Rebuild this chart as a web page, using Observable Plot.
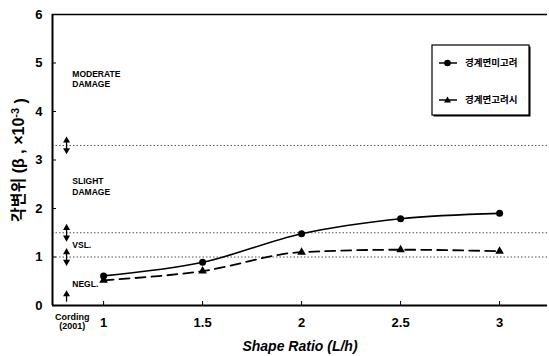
<!DOCTYPE html>
<html><head><meta charset="utf-8">
<script src="https://cdn.jsdelivr.net/npm/d3@7"></script>
<script src="https://cdn.jsdelivr.net/npm/@observablehq/plot@0.6"></script>
<style>
body{margin:0;background:#fff;}
#chart svg{font-family:"Liberation Sans","Noto Sans CJK KR",sans-serif;}
</style>
</head><body><div id="chart"></div>
<script>
// ---- data ----
const shapeRatio = [1, 1.5, 2, 2.5, 3];
const notConsidered = [0.61, 0.89, 1.48, 1.79, 1.90];   // 경계면미고려
const considered    = [0.52, 0.71, 1.10, 1.15, 1.12];   // 경계면고려시
const seriesNames = ["경계면미고려", "경계면고려시"];
const xTicks = [1, 1.5, 2, 2.5, 3];
const yTicks = [0, 1, 2, 3, 4, 5, 6];
const thresholds = [3.3, 1.5, 1.0];            // Cording (2001) limits
const zoneLabels = ["MODERATE\nDAMAGE", "SLIGHT\nDAMAGE", "VSL.", "NEGL."];
const zoneY = [4.68, 2.46, 1.26, 0.45];
const zoneX = 0.842;
const arrowX = 0.813;
const cordingLabel = "Cording\n(2001)";
const xLabel = "Shape Ratio (L/h)";
const yLabelMain = "각변위 (β , ×10";
const yLabelSup = "-3";
const yLabelEnd = " )";
const xDomain = [0.742, 3.242];
const yDomain = [0, 6];

// ---- tables ----
const rowsA = shapeRatio.map((x, i) => ({x, y: notConsidered[i]}));
const rowsB = shapeRatio.map((x, i) => ({x, y: considered[i]}));
const zones = zoneLabels.map((t, i) => ({t, y: zoneY[i]}));
const dbl = thresholds.map(t => ({t}));

const plot = Plot.plot({
  width: 549, height: 356,
  marginTop: 14, marginLeft: 52, marginRight: 2, marginBottom: 51,
  x: {domain: xDomain},
  y: {domain: yDomain},
  style: {background: "#fff", color: "#000"},
  marks: [
    Plot.ruleY(thresholds, {stroke: "#555", strokeWidth: 1, strokeDasharray: "1.5,2"}),
    // frame lines
    Plot.ruleY([yDomain[0]], {stroke: "#000", strokeWidth: 2}),
    Plot.ruleY([yDomain[1]], {stroke: "#000", strokeWidth: 1.5}),
    Plot.ruleX([xDomain[0]], {stroke: "#000", strokeWidth: 2}),
    // series
    Plot.line(rowsA, {x: "x", y: "y", curve: "monotone-x", stroke: "#000", strokeWidth: 1.6}),
    Plot.line(rowsB, {x: "x", y: "y", curve: "monotone-x", stroke: "#000", strokeWidth: 1.8, strokeDasharray: "10,6"}),
    Plot.dot(rowsA, {x: "x", y: "y", r: 3.5, fill: "#000", stroke: "none"}),
    Plot.dot(rowsB, {x: "x", y: "y", r: 3.2, symbol: "triangle", fill: "#000", stroke: "none"}),
    // zone annotations
    Plot.text(zones, {x: () => zoneX, y: "y", text: "t", textAnchor: "start", fontSize: 8.5, fontWeight: "bold", lineHeight: 1.25, fill: "#000", style: {letterSpacing: "-0.6px"}}),
    // double arrows at the limits
    Plot.link(dbl, {x1: () => arrowX, x2: () => arrowX, y1: d => d.t - 0.13, y2: d => d.t + 0.13, stroke: "#000", strokeWidth: 1.3}),
    Plot.dot(dbl, {x: () => arrowX, y: d => d.t + 0.1, symbol: "triangle", r: 2.6, fill: "#000", stroke: "none"}),
    Plot.dot(dbl, {x: () => arrowX, y: d => d.t - 0.1, symbol: "triangle", rotate: 180, r: 2.6, fill: "#000", stroke: "none"}),
    // single up arrow at the bottom
    Plot.link([0], {x1: () => arrowX, x2: () => arrowX, y1: () => 0.08, y2: () => 0.25, stroke: "#000", strokeWidth: 1.3}),
    Plot.dot([0], {x: () => arrowX, y: () => 0.23, symbol: "triangle", r: 2.6, fill: "#000", stroke: "none"}),
    // axes
    Plot.axisY(yTicks, {tickSize: -4, tickPadding: 14, fontSize: 13, fontWeight: "bold", label: null, tickFormat: d => String(d)}),
    Plot.axisX(xTicks, {tickSize: -4, tickPadding: 16, fontSize: 13, fontWeight: "bold", label: null, tickFormat: d => String(d)}),
    Plot.axisX([zoneX], {tickSize: 0, tickPadding: 8, tickFormat: () => cordingLabel, fontSize: 9, fontWeight: "bold", label: null, style: {letterSpacing: "-0.4px"}}),
    Plot.text([yLabelMain], {frameAnchor: "left", textAnchor: "middle", rotate: -90, dx: -34, fontSize: 16, fontWeight: "bold", fill: "#000", className: "ylab"}),
    Plot.text([xLabel], {frameAnchor: "bottom", dy: 45, fontSize: 14, fontWeight: "bold", fontStyle: "italic", fill: "#000"})
  ]
});
document.getElementById("chart").appendChild(plot);

// superscript in y label
const yl = d3.select(plot).select("g.ylab text");
yl.text(null).attr("text-anchor", "middle");
yl.append("tspan").text(yLabelMain);
yl.append("tspan").attr("dy", "-0.45em").attr("font-size", 11).text(yLabelSup);
yl.append("tspan").attr("dy", "0.45em").text(yLabelEnd);

// ---- legend (inside plot area) ----
const svg = d3.select(plot);
const lg = svg.append("g").attr("transform", "translate(432,45)");
lg.append("rect").attr("x", 1.5).attr("y", 1.5).attr("width", 97).attr("height", 70).attr("fill", "#000");
lg.append("rect").attr("x", 0).attr("y", 0).attr("width", 97).attr("height", 70).attr("fill", "#fff").attr("stroke", "#000").attr("stroke-width", 1.2);
const entries = [{y: 18, sym: "circle", name: seriesNames[0]}, {y: 55, sym: "tri", name: seriesNames[1]}];
entries.forEach(e => {
  lg.append("line").attr("x1", 7).attr("x2", 25).attr("y1", e.y).attr("y2", e.y).attr("stroke", "#000").attr("stroke-width", 1.5);
  if (e.sym === "circle") lg.append("circle").attr("cx", 15.5).attr("cy", e.y).attr("r", 3.3).attr("fill", "#000");
  else lg.append("path").attr("d", `M15.5,${e.y - 3.5}L19,${e.y + 2.5}L12,${e.y + 2.5}Z`).attr("fill", "#000");
  lg.append("text").attr("x", 33).attr("y", e.y).attr("dy", "0.35em").attr("font-size", 9.5).attr("font-weight", "bold")
    .attr("text-anchor", "start").attr("font-family", "Noto Sans CJK KR").attr("fill", "#000").text(e.name);
});
</script>
</body></html>
